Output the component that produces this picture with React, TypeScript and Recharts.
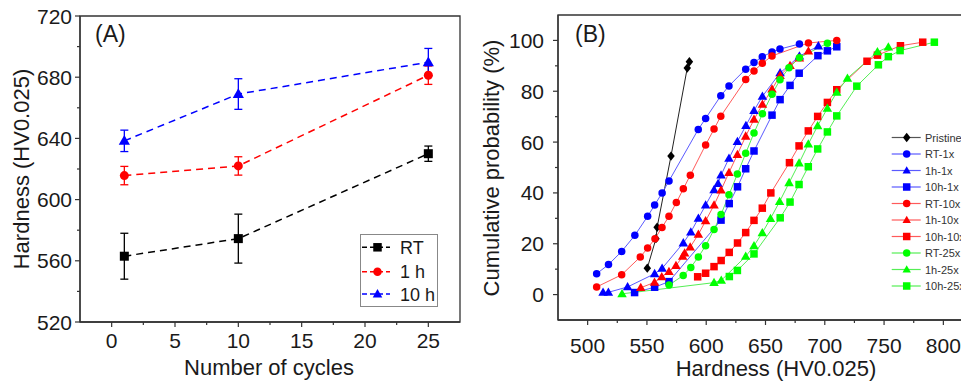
import React from "react";
import { LineChart, Line, XAxis, YAxis, ErrorBar, ReferenceArea, Legend } from "recharts";

// ---- panel (A): hardness vs number of cycles ----
const cycles = [1, 10, 25];
const hardnessRT = [563, 574.5, 630];
const errorRT = [15, 16, 5];
const hardness1h = [615.7, 622, 681.3];
const error1h = [6, 6, 6];
const hardness10h = [638.4, 669, 689.8];
const error10h = [7, 10, 9];
const namesA = ["RT", "1 h", "10 h"];

const aXTicks = [0, 2.5, 5, 7.5, 10, 12.5, 15, 17.5, 20, 22.5, 25];
const aXMajor = [0, 5, 10, 15, 20, 25];
const aYTicks = [520, 540, 560, 580, 600, 620, 640, 660, 680, 700, 720];
const aYMajor = [520, 560, 600, 640, 680, 720];

// ---- panel (B): cumulative probability, [hardness, %] ----
const pristine = [[550.3, 10.4], [557.6, 22], [558.6, 26.5], [570.3, 54.5], [584, 89.1], [585.8, 91.6]];
const rt1x = [[507.6, 8.2], [517.6, 11.8], [528.7, 17], [539.8, 23.3], [550.6, 30.8], [556.5, 35.2], [562.8, 40], [568.6, 44.7], [593.3, 65], [599.5, 69.3], [612.3, 78.2], [619.2, 82.1], [633.3, 88.7], [640.3, 91.3], [647.3, 93.6], [655.5, 95.4], [662.2, 96.6], [678.6, 98.6]];
const h1x1 = [[513, 0.9], [517.5, 0.9], [533.7, 3], [556.5, 8.2], [562.8, 10.3], [580.7, 20.3], [587, 24.6], [593.4, 30], [599.5, 35.2], [606.6, 41.2], [610, 43.7], [612.5, 47], [619.2, 53.6], [626.3, 60.2], [633.5, 66.5], [640.3, 72.4], [647.4, 78], [662.3, 87.2], [678.6, 93.8], [694.6, 97.8]];
const h10x1 = [[539.6, 0.8], [556.5, 2.9], [568.6, 5.1], [612.5, 29.3], [619.4, 35.8], [626.4, 42.4], [633.3, 49.5], [640.3, 56.5], [655.5, 70.6], [662.3, 76.7], [670.7, 82.3], [678.4, 87.1], [694.2, 94], [702.2, 95.9], [710.1, 97.5]];
const rt10x = [[507.6, 3], [528.7, 7.8], [544.4, 14.8], [550.6, 18.3], [556.8, 22], [562.7, 26.4], [568.6, 30.8], [574.8, 36.2], [580.7, 41.6], [586.6, 47], [599.5, 58.9], [606.6, 65.1], [612.3, 70.2], [633.3, 84.6], [640.3, 88], [647.3, 91], [655.5, 93.9], [686.2, 99], [710.1, 100]];
const h1x10 = [[544.8, 2.7], [556.4, 4.8], [562.5, 7], [568.6, 9], [574.5, 11.4], [580.2, 15], [581.8, 16.3], [586.5, 18.7], [593.4, 23.7], [599.5, 29], [606.6, 35.2], [612.5, 41.1], [619.2, 48], [626.3, 55.1], [633.3, 62.3], [640.3, 68.9], [647.4, 74.8], [655.5, 80.8], [662.3, 86.2], [670.7, 90.1], [678.6, 93], [686.2, 95.8]];
const h10x10 = [[592.8, 7], [599.5, 8.4], [606.6, 11], [612.6, 13.4], [619.4, 16.6], [626.4, 20.3], [633.3, 24.4], [640.3, 29.2], [647.3, 34], [654.5, 40], [670.2, 51.9], [678.3, 58.5], [686.1, 64.4], [694, 70.1], [702.2, 75.6], [710.1, 80.6], [735.6, 91.8], [744.4, 94.2], [763.8, 97.9], [782.6, 99.3]];
const rt25x = [[568.7, 3.8], [580.6, 7.5], [587, 10.7], [593.4, 14.8], [599.5, 19.2], [606.6, 25.6], [612.5, 31.5], [619.2, 39.3], [626.3, 47.4], [633.3, 55.6], [640.3, 63.6], [647.4, 71.1], [655.5, 78.8], [662.2, 84.5], [669.8, 89.2], [678.6, 93.2], [702.2, 98.9]];
const h1x25 = [[529, 0.3], [606.6, 4.7], [612.7, 5.6], [633.3, 15], [640.3, 19.2], [647.3, 24.3], [654.2, 29.9], [661.9, 36.6], [669.9, 44], [678.3, 51.7], [686.1, 59.2], [694, 66.4], [702.2, 73.3], [710.1, 79.6], [719.1, 85.1], [744.4, 95.5], [753.6, 97.4]];
const h10x25 = [[619.5, 7.1], [626.3, 9.5], [640.3, 16], [662.4, 30.2], [670.7, 36.4], [678.3, 43.3], [686.1, 50.3], [694, 57.3], [702.2, 64], [710.1, 70.3], [727, 82], [745.2, 90.4], [753.6, 93.6], [763.5, 96], [792.4, 99.3]];

const namesB = ["Pristine", "RT-1x", "1h-1x", "10h-1x", "RT-10x", "1h-10x", "10h-10x", "RT-25x", "1h-25x", "10h-25x"];
const pointsB = [pristine, rt1x, h1x1, h10x1, rt10x, h1x10, h10x10, rt25x, h1x25, h10x25];

const bXTicks = [500, 525, 550, 575, 600, 625, 650, 675, 700, 725, 750, 775, 800];
const bXMajor = [500, 550, 600, 650, 700, 750, 800];
const bYTicks = [0, 10, 20, 30, 40, 50, 60, 70, 80, 90, 100];
const bYMajor = [0, 20, 40, 60, 80, 100];

type Shape = "circle" | "square" | "triangle" | "diamond";

const AXIS = "#333";
const TEXT = "#1a1a1a";
const FONT = "'Liberation Sans', Arial, sans-serif";

const shapesB: Shape[] = ["diamond", "circle", "triangle", "square", "circle", "triangle", "square", "circle", "triangle", "square"];
const colorsB = ["#000000", "#0000ff", "#0000ff", "#0000ff", "#ff0000", "#ff0000", "#ff0000", "#00ff00", "#00ff00", "#00ff00"];
const linesB = ["#222222", "#5a5aff", "#5a5aff", "#5a5aff", "#ff5a5a", "#ff5a5a", "#ff5a5a", "#55ee55", "#55ee55", "#55ee55"];

const seriesB = namesB.map((name, i) => ({
  name,
  color: colorsB[i],
  line: linesB[i],
  shape: shapesB[i],
  data: pointsB[i].map(([h, p]) => ({ h, p })),
}));

const dataA = cycles.map((c, i) => ({
  cycles: c,
  rt: hardnessRT[i],
  rtErr: errorRT[i],
  h1: hardness1h[i],
  h1Err: error1h[i],
  h10: hardness10h[i],
  h10Err: error10h[i],
}));

const seriesA = [
  { key: "rt", err: "rtErr", color: "#000000", shape: "square" as Shape, dash: "7 5" },
  { key: "h1", err: "h1Err", color: "#ff0000", shape: "circle" as Shape, dash: "7 5" },
  { key: "h10", err: "h10Err", color: "#0000ff", shape: "triangle" as Shape, dash: "7 5" },
];

function Marker({ shape, cx, cy, size, color }: { shape: Shape; cx: number; cy: number; size: number; color: string }) {
  const s = size / 2;
  if (shape === "circle") return <circle cx={cx} cy={cy} r={s} fill={color} />;
  if (shape === "square") return <rect x={cx - s} y={cy - s} width={size} height={size} fill={color} />;
  if (shape === "triangle")
    return <path d={`M${cx},${cy - s * 1.15}L${cx + s * 1.12},${cy + s * 0.8}L${cx - s * 1.12},${cy + s * 0.8}Z`} fill={color} />;
  return <path d={`M${cx},${cy - s * 1.25}L${cx + s},${cy}L${cx},${cy + s * 1.25}L${cx - s},${cy}Z`} fill={color} />;
}

function markerDot(shape: Shape, size: number, color: string) {
  return (props: any) => {
    const { cx, cy, index } = props;
    if (cx == null || cy == null) return <g key={index} />;
    return <Marker key={index} shape={shape} cx={cx} cy={cy} size={size} color={color} />;
  };
}

function bottomTick(majors: number[], labelY: number) {
  return (props: any) => {
    const { x, y, payload } = props;
    const major = majors.includes(payload.value);
    return (
      <g>
        <line x1={x} y1={y} x2={x} y2={y + (major ? 5 : 3)} stroke={AXIS} strokeWidth={1.2} />
        {major && (
          <text x={x} y={y + labelY} textAnchor="middle" fontSize={21} fill={TEXT}>
            {payload.value}
          </text>
        )}
      </g>
    );
  };
}

function leftTick(majors: number[], gap: number) {
  return (props: any) => {
    const { x, y, payload } = props;
    const major = majors.includes(payload.value);
    return (
      <g>
        <line x1={x} y1={y} x2={x - (major ? 5 : 3)} y2={y} stroke={AXIS} strokeWidth={1.2} />
        {major && (
          <text x={x - gap} y={y + 7.5} textAnchor="end" fontSize={21} fill={TEXT}>
            {payload.value}
          </text>
        )}
      </g>
    );
  };
}

function LegendA() {
  return (
    <svg width={78} height={73} style={{ display: "block" }}>
      <rect x={0.5} y={0.5} width={77} height={72} fill="#fff" stroke="#888" strokeWidth={1} />
      {seriesA.map((s, i) => {
        const y = [13.3, 37.7, 60][i];
        return (
          <g key={s.key}>
            <line x1={2} x2={30} y1={y} y2={y} stroke={s.color} strokeWidth={1.5} strokeDasharray="5 3" />
            <Marker shape={s.shape} cx={17.5} cy={y} size={8.5} color={s.color} />
            <text x={40} y={y + 6.5} fontSize={18} fill={TEXT}>
              {namesA[i]}
            </text>
          </g>
        );
      })}
    </svg>
  );
}

function LegendB() {
  return (
    <svg width={110} height={170} style={{ display: "block" }}>
      {seriesB.map((s, i) => {
        const y = 12.5 + 16.5 * i;
        return (
          <g key={s.name}>
            <line x1={6.7} x2={35.7} y1={y} y2={y} stroke={i === 0 ? "#555" : s.line} strokeWidth={1.2} />
            <Marker shape={s.shape} cx={21.7} cy={y} size={7.5} color={s.color} />
            <text x={40} y={y + 4} fontSize={11} fill="#333">
              {s.name}
            </text>
          </g>
        );
      })}
    </svg>
  );
}

export default function App() {
  return (
    <div
      style={{
        position: "fixed",
        left: 0,
        top: 0,
        width: 961,
        height: 385,
        overflow: "hidden",
        background: "#fff",
        fontFamily: FONT,
      }}
    >
      <div style={{ position: "absolute", left: 0, top: 0 }}>
        <LineChart width={480} height={385} data={dataA} margin={{ top: 16, right: 20, bottom: 0, left: 0 }}>
          <ReferenceArea x1={-2.5} x2={27.5} y1={520} y2={720} fill="none" stroke={AXIS} strokeWidth={1.3} />
          <XAxis
            dataKey="cycles"
            type="number"
            domain={[-2.5, 27.5]}
            ticks={aXTicks}
            interval={0}
            height={63}
            tickSize={0}
            tickMargin={0}
            tickLine={false}
            tick={bottomTick(aXMajor, 26)}
            axisLine={{ stroke: AXIS, strokeWidth: 1.3 }}
            allowDataOverflow
          />
          <YAxis
            type="number"
            domain={[520, 720]}
            ticks={aYTicks}
            interval={0}
            width={80}
            tickSize={0}
            tickMargin={0}
            tickLine={false}
            tick={leftTick(aYMajor, 8)}
            axisLine={{ stroke: AXIS, strokeWidth: 1.3 }}
            allowDataOverflow
          />
          {seriesA.map((s) => (
            <Line
              key={s.key}
              dataKey={s.key}
              stroke={s.color}
              strokeWidth={1.5}
              strokeDasharray={s.dash}
              dot={markerDot(s.shape, s.shape === "triangle" ? 10 : 9, s.color)}
              activeDot={false}
              isAnimationActive={false}
            >
              <ErrorBar dataKey={s.err} width={4} stroke={s.color} strokeWidth={1.3} direction="y" />
            </Line>
          ))}
          <Legend
            layout="vertical"
            align="center"
            verticalAlign="middle"
            content={() => <LegendA />}
            wrapperStyle={{ left: 360, top: 234, width: 78, height: 73 }}
          />
        </LineChart>
      </div>

      <div style={{ position: "absolute", left: 480, top: 0 }}>
        <LineChart width={498} height={385} margin={{ top: 15, right: 5, bottom: 0, left: 0 }}>
          <ReferenceArea x1={475} x2={825} y1={-10} y2={110} fill="none" stroke={AXIS} strokeWidth={1.3} />
          <XAxis
            dataKey="h"
            type="number"
            domain={[475, 825]}
            ticks={bXTicks}
            interval={0}
            height={65}
            tickSize={0}
            tickMargin={0}
            tickLine={false}
            tick={bottomTick(bXMajor, 32.5)}
            axisLine={{ stroke: AXIS, strokeWidth: 1.3 }}
            allowDataOverflow
          />
          <YAxis
            type="number"
            domain={[-10, 110]}
            ticks={bYTicks}
            interval={0}
            width={78}
            tickSize={0}
            tickMargin={0}
            tickLine={false}
            tick={leftTick(bYMajor, 14)}
            axisLine={{ stroke: AXIS, strokeWidth: 1.3 }}
            allowDataOverflow
          />
          {seriesB.map((s) => (
            <Line
              key={s.name}
              data={s.data}
              dataKey="p"
              stroke={s.line}
              strokeWidth={1}
              dot={markerDot(s.shape, s.shape === "triangle" ? 8.5 : 7.5, s.color)}
              activeDot={false}
              isAnimationActive={false}
            />
          ))}
          <Legend
            layout="vertical"
            align="center"
            verticalAlign="middle"
            content={() => <LegendB />}
            wrapperStyle={{ left: 405, top: 125, width: 110, height: 170 }}
          />
        </LineChart>
      </div>

      <svg width={961} height={385} style={{ position: "absolute", left: 0, top: 0, pointerEvents: "none" }}>
        <text x={95} y={42} fontSize={23} fill={TEXT}>(A)</text>
        <text x={575} y={42} fontSize={23} fill={TEXT}>(B)</text>
        <text x={269} y={375} fontSize={22} textAnchor="middle" fill={TEXT}>Number of cycles</text>
        <text x={776} y={375.5} fontSize={22} textAnchor="middle" fill={TEXT}>Hardness (HV0.025)</text>
        <text x={29} y={169} fontSize={22} textAnchor="middle" fill={TEXT} transform="rotate(-90 29 169)">
          Hardness (HV0.025)
        </text>
        <text x={498.5} y={168} fontSize={22} textAnchor="middle" fill={TEXT} transform="rotate(-90 498.5 168)">
          Cumulative probability (%)
        </text>
      </svg>
    </div>
  );
}
